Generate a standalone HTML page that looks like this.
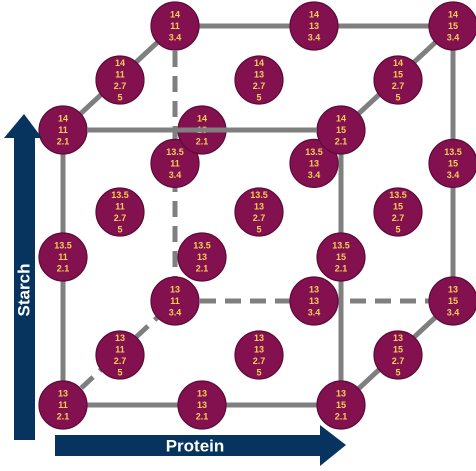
<!DOCTYPE html>
<html><head><meta charset="utf-8">
<style>
html,body{margin:0;padding:0;background:#fff;}
svg{display:block;font-family:"Liberation Sans",sans-serif;}
</style></head>
<body>
<svg id="c" width="476" height="471" viewBox="0 0 476 471">
  <g id="edges"></g>
  <g id="nodes"></g>
  <g id="top"></g>
  <g>
    <polygon points="14,440 35,440 35,138 42,138 24,114 4,138 14,138" fill="#06345f"/>
    <text x="24" y="290" transform="rotate(-90 24 290)" text-anchor="middle" font-size="17" font-weight="bold" fill="#fff" dominant-baseline="central">Starch</text>
  </g>
  <g>
    <polygon points="55,435 320,435 320,425 346,445 320,466 320,456 55,456" fill="#06345f"/>
    <text x="195" y="446" text-anchor="middle" font-size="17" font-weight="bold" fill="#fff" dominant-baseline="central">Protein</text>
  </g>
</svg>
<script>
const proteinLevels = [11, 13, 15];
const starchLevels = [13, 13.5, 14];
const depthLevels = ["2.1", "2.7", "3.4"];
const depthExtra = ["", "5", ""];
const NS = "http://www.w3.org/2000/svg";
function xScale(p){ return 63 + (p - 11) * 69.5; }
function yScale(s){ return s <= 13.5 ? 405 - (s - 13) * 296 : 257 - (s - 13.5) * 254; }
function dx(i){ return [0, 57, 112][i]; }
function dy(s, i){
  const mid = s === 13.5 ? 0.9 : 1;
  return [0, -50 * mid, -104 * mid][i];
}
function pos(p, s, d){ return [xScale(p) + dx(d), yScale(s) + dy(s, d)]; }
function line(g, a, b, dashed, name){
  const l = document.createElementNS(NS, "line");
  l.setAttribute("x1", a[0]); l.setAttribute("y1", a[1]);
  l.setAttribute("x2", b[0]); l.setAttribute("y2", b[1]);
  l.setAttribute("stroke", "#7f7f7f"); l.setAttribute("stroke-width", "5");
  if (dashed) l.setAttribute("stroke-dasharray", "16,9");
  
  
  g.appendChild(l);
}
const E = document.getElementById("edges");
const pMin = proteinLevels[0], pMax = proteinLevels[2], sMin = starchLevels[0], sMax = starchLevels[2];
line(E, pos(pMin,sMax,0), pos(pMin,sMin,0), false, "front-left-edge");
line(E, pos(pMin,sMin,0), pos(pMax,sMin,0), false, "front-bottom-edge");
line(E, pos(pMax,sMax,0), pos(pMax,sMin,0), false, "front-right-edge");
line(E, pos(pMin,sMax,2), pos(pMax,sMax,2), false, "back-top-edge");
line(E, pos(pMax,sMax,2), pos(pMax,sMin,2), false, "back-right-edge");
line(E, pos(pMin,sMax,2), pos(pMin,sMin,2), true, "back-left-edge");
line(E, pos(pMin,sMin,2), pos(pMax,sMin,2), true, "back-bottom-edge");
line(E, pos(pMin,sMax,0), pos(pMin,sMax,2), false, "depth-top-left-edge");
line(E, pos(pMax,sMax,0), pos(pMax,sMax,2), false, "depth-top-right-edge");
line(E, pos(pMax,sMin,0), pos(pMax,sMin,2), false, "depth-bottom-right-edge");
line(E, pos(pMin,sMin,0), pos(pMin,sMin,2), true, "depth-bottom-left-edge");

const N = document.getElementById("nodes");
for (let d = 2; d >= 0; d--) {
  for (const s of starchLevels) {
    for (const p of proteinLevels) {
      const [cx, cy] = pos(p, s, d);
      const g = document.createElementNS(NS, "g");
      
      
      const c = document.createElementNS(NS, "circle");
      c.setAttribute("cx", cx); c.setAttribute("cy", cy); c.setAttribute("r", 24);
      c.setAttribute("fill", "#83104f"); c.setAttribute("stroke", "#5c0a36"); c.setAttribute("stroke-width", "1.2");
      g.appendChild(c);
      const lines = [String(s), String(p), depthLevels[d]];
      if (depthExtra[d]) lines.push(depthExtra[d]);
      const lh = 11.5, start = cy - (lines.length - 1) * lh / 2;
      lines.forEach((t, i) => {
        const tx = document.createElementNS(NS, "text");
        tx.setAttribute("x", cx); tx.setAttribute("y", start + i * lh);
        tx.setAttribute("text-anchor", "middle"); tx.setAttribute("dominant-baseline", "central");
        tx.setAttribute("font-size", "9"); tx.setAttribute("font-weight", "bold"); tx.setAttribute("fill", "#f6cf55");
        tx.textContent = t;
        g.appendChild(tx);
      });
      N.appendChild(g);
    }
  }
}
const a = pos(pMin,sMax,0), b = pos(pMax,sMax,0);
line(document.getElementById("top"), [a[0] + 24, a[1]], [b[0] - 24, b[1]], false, "front-top-edge-line");
</script>
</body></html>
